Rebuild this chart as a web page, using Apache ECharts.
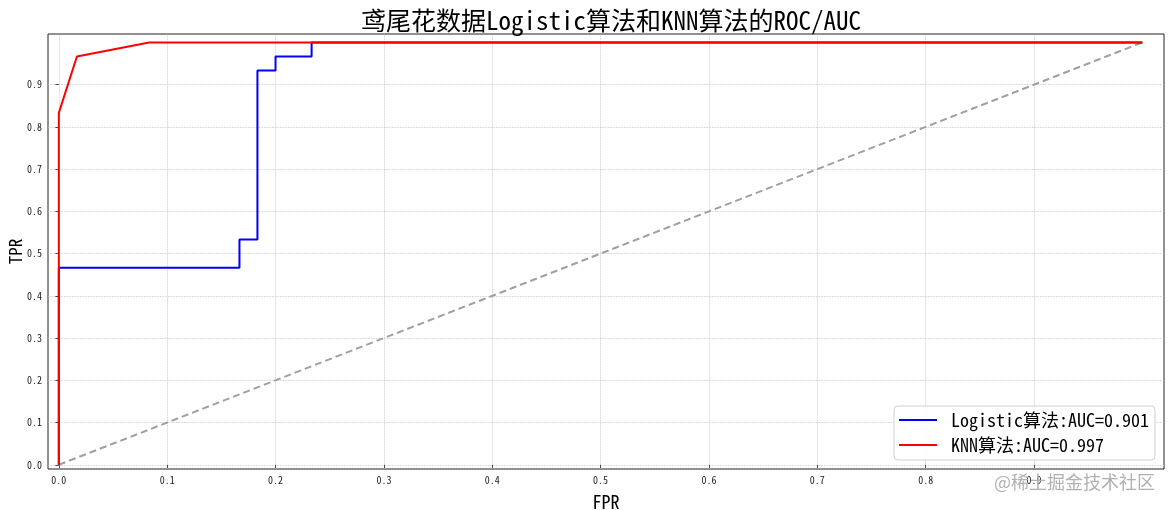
<!DOCTYPE html>
<html>
<head>
<meta charset="utf-8">
<script src="https://cdn.jsdelivr.net/npm/echarts@6/dist/echarts.min.js"></script>
<style>html,body{margin:0;padding:0;background:#fff;}#c{width:1171px;height:510px;}</style>
</head>
<body>
<div id="c"></div>
<script>
// ---- data ----
var titleText = '鸢尾花数据Logistic算法和KNN算法的ROC/AUC';
var logisticName = 'Logistic算法:AUC=0.901';
var knnName = 'KNN算法:AUC=0.997';
var logisticFpr = [0, 0, 0.1667, 0.1667, 0.1833, 0.1833, 0.2, 0.2, 0.2333, 0.2333, 1];
var logisticTpr = [0, 0.4667, 0.4667, 0.5333, 0.5333, 0.9333, 0.9333, 0.9667, 0.9667, 1, 1];
var knnFpr = [0, 0, 0.0167, 0.0833, 1];
var knnTpr = [0, 0.8333, 0.9667, 1, 1];
var diagX = [0, 1];
var diagY = [0, 1];
var tickValues = [0, 0.1, 0.2, 0.3, 0.4, 0.5, 0.6, 0.7, 0.8, 0.9];
var xName = 'FPR';
var yName = 'TPR';
var watermark = '@稀土掘金技术社区';

function zip(a, b) { return a.map(function (v, i) { return [v, b[i]]; }); }

var FONT = "'Noto Sans Mono CJK SC','Noto Sans CJK SC',monospace";
var chart = echarts.init(document.getElementById('c'), null, {renderer: 'canvas'});

var gridLines = tickValues.map(function (v) { return {xAxis: v}; })
  .concat(tickValues.map(function (v) { return {yAxis: v}; }));

function axisCommon(name, nameGap, rotate, labelMargin, nameSize) {
  return {
    type: 'value',
    min: -0.01,
    max: 1.02,
    name: name,
    nameLocation: 'middle',
    nameGap: nameGap,
    nameRotate: rotate,
    nameMoveOverlap: false,
    nameTextStyle: {fontFamily: FONT, fontSize: nameSize, color: '#000'},
    axisLine: {show: false},
    splitLine: {show: false},
    axisTick: {show: true, customValues: tickValues, length: 3.5, lineStyle: {color: '#222', width: 0.8}},
    axisLabel: {
      customValues: tickValues,
      formatter: function (v) { return v.toFixed(1); },
      fontFamily: FONT, fontSize: 10, color: '#222', margin: labelMargin
    }
  };
}

var option = {
  animation: false,
  backgroundColor: '#fff',
  title: {
    text: titleText,
    left: 606, textAlign: 'center',
    top: 3,
    textStyle: {fontFamily: FONT, fontSize: 25, fontWeight: 'normal', color: '#000'}
  },
  grid: {left: 48, right: 7, top: 34, bottom: 41, containLabel: false, outerBoundsMode: 'none',
         show: true, borderColor: '#222', borderWidth: 1, backgroundColor: 'transparent'},
  xAxis: axisCommon(xName, 24, 0, 6, 18),
  yAxis: axisCommon(yName, 24, 90, 6, 17),
  legend: {
    data: [logisticName, knnName],
    orient: 'vertical',
    right: 16,
    bottom: 50,
    icon: 'rect',
    itemWidth: 38,
    itemHeight: 2,
    itemGap: 7,
    padding: [5, 6, 6, 5],
    backgroundColor: 'rgba(255,255,255,0.85)',
    borderColor: '#d0d0d0',
    borderWidth: 1,
    borderRadius: 4,
    textStyle: {fontFamily: FONT, fontSize: 18, color: '#000', padding: [0, 0, 0, 9]}
  },
  graphic: [{
    type: 'text',
    right: 16,
    top: 473,
    style: {text: watermark, fontFamily: "'Noto Sans CJK SC',sans-serif", fontSize: 18, fill: '#b0b0b0'},
    z: 100
  }],
  series: [
    {
      type: 'line', name: 'grid', data: [], silent: true, z: 0,
      markLine: {
        silent: true, symbol: ['none', 'none'], label: {show: false}, z: 0,
        lineStyle: {type: 'dotted', color: '#c0c0c0', width: 0.8},
        data: gridLines, animation: false
      }
    },
    {
      type: 'line', name: 'diag', data: zip(diagX, diagY),
      showSymbol: false, symbol: 'none', z: 2,
      lineStyle: {color: '#a0a0a0', width: 2, type: [7, 4]}, itemStyle: {color: '#a0a0a0'}
    },
    {
      type: 'line', name: logisticName, data: zip(logisticFpr, logisticTpr),
      showSymbol: false, symbol: 'none', z: 3,
      lineStyle: {color: '#0000ff', width: 2}, itemStyle: {color: '#0000ff'}
    },
    {
      type: 'line', name: knnName, data: zip(knnFpr, knnTpr),
      showSymbol: false, symbol: 'none', z: 4,
      lineStyle: {color: '#ff0000', width: 2}, itemStyle: {color: '#ff0000'}
    }
  ]
};
chart.setOption(option);
</script>
</body>
</html>
